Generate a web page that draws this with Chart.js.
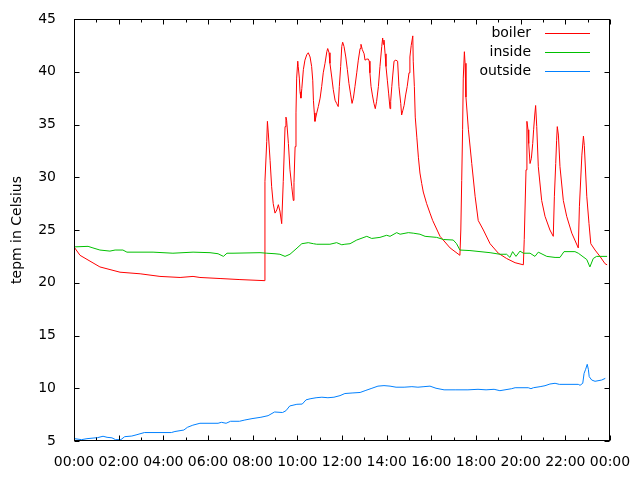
<!DOCTYPE html>
<html>
<head>
<meta charset="utf-8">
<script src="https://cdn.jsdelivr.net/npm/chart.js@4.4.0/dist/chart.umd.min.js"></script>
<style>
	html, body { margin: 0; padding: 0; background: #fff; }
	#wrap { width: 640px; height: 480px; }
</style>
</head>
<body>
<div id="wrap"><canvas id="c" width="640" height="480"></canvas></div>
<script>
// values, time in hours since midnight
const boilerHours = [0,0.27,1.16,2.06,2.96,3.85,4.75,5.33,5.64,6.54,7.43,8.51,8.55,8.63,8.66,8.70,8.78,8.85,8.92,9.00,9.08,9.15,9.22,9.30,9.37,9.45,9.49,9.52,9.60,9.67,9.75,9.82,9.85,9.90,9.94,9.97,10.02,10.04,10.09,10.12,10.16,10.20,10.27,10.34,10.42,10.49,10.57,10.64,10.69,10.72,10.76,10.79,10.83,10.87,10.94,11.02,11.09,11.16,11.24,11.32,11.36,11.42,11.46,11.54,11.61,11.69,11.76,11.83,11.88,11.94,11.99,12.03,12.09,12.17,12.24,12.31,12.39,12.45,12.51,12.58,12.66,12.73,12.81,12.85,12.91,12.99,13.03,13.11,13.18,13.22,13.25,13.30,13.36,13.43,13.49,13.55,13.63,13.70,13.78,13.82,13.85,13.88,13.93,13.97,14.03,14.09,14.15,14.18,14.23,14.27,14.33,14.41,14.49,14.55,14.63,14.67,14.72,14.78,14.85,14.92,15.00,15.04,15.10,15.17,15.19,15.24,15.28,15.35,15.42,15.49,15.57,15.64,15.79,15.94,16.06,16.39,16.84,17.28,17.32,17.36,17.40,17.43,17.48,17.51,17.55,17.66,17.81,17.96,18.10,18.33,18.63,19.00,19.37,19.75,20.12,20.16,20.24,20.28,20.33,20.36,20.42,20.48,20.54,20.58,20.63,20.67,20.72,20.79,20.94,21.09,21.31,21.46,21.51,21.57,21.61,21.64,21.69,21.76,21.91,22.06,22.29,22.58,22.63,22.74,22.81,22.85,22.96,23.06,23.14,23.33,23.55,23.78,23.87]
const boilerTemp = [23.4,22.6,21.5,21.0,20.85,20.6,20.5,20.6,20.5,20.4,20.3,20.2,29.6,33.4,35.3,34.2,31.6,29.1,27.5,26.6,26.9,27.4,26.8,25.6,29.6,34.8,35.7,35.4,33.2,30.7,29.1,27.8,29.5,32.9,36.1,39.4,41.0,40.5,39.4,38.1,37.5,38.4,40.2,41.1,41.6,41.8,41.4,40.5,39.2,37.3,36.1,35.3,35.7,36.1,36.7,37.5,38.6,39.9,40.8,41.9,42.2,41.8,40.8,39.5,38.3,37.3,37.0,36.7,38.6,40.5,42.4,42.8,42.4,41.4,40.2,38.9,37.8,37.0,37.5,38.6,39.9,41.1,42.2,42.6,42.1,41.7,41.1,41.2,41.2,41.0,39.9,38.6,37.8,37.0,36.5,37.2,38.6,40.5,42.4,43.2,42.6,43.0,41.7,40.5,39.2,37.9,36.5,37.2,38.6,39.6,41.0,41.1,41.0,38.6,37.0,35.9,36.3,36.8,37.8,38.6,39.9,41.4,42.5,43.4,41.0,38.6,35.7,33.8,31.9,30.4,29.4,28.6,27.5,26.6,25.9,24.4,23.3,22.6,25.0,29.7,34.5,39.4,41.9,40.8,37.6,34.5,31.3,28.2,25.9,25.0,23.7,22.8,22.3,21.9,21.7,24.1,30.7,35.3,34.5,33.2,31.3,31.8,33.2,34.5,35.9,36.8,34.8,31.0,27.8,26.3,25.0,24.4,28.2,31.3,33.5,34.8,34.0,31.0,27.8,26.3,24.7,23.3,27.2,32.1,33.9,33.0,28.2,25.6,23.7,23.1,22.5,21.8,21.7]

const insideHours = [0,0.63,0.85,1.16,1.61,1.84,2.19,2.37,3.54,4.43,5.33,6.09,6.45,6.69,6.85,7.12,8.33,8.63,9.00,9.22,9.45,9.67,9.94,10.20,10.49,10.72,10.87,11.46,11.76,11.99,12.13,12.36,12.66,13.11,13.33,13.70,14.00,14.15,14.45,14.60,14.97,15.19,15.49,15.72,16.24,16.54,16.98,17.13,17.28,17.73,18.63,19.07,19.37,19.52,19.64,19.79,19.97,20.12,20.42,20.64,20.79,21.17,21.54,21.76,21.94,22.43,22.58,22.96,23.10,23.25,23.40,23.87]
const insideTemp = [23.4,23.45,23.3,23.1,23.0,23.1,23.1,22.9,22.9,22.8,22.9,22.85,22.75,22.5,22.8,22.8,22.85,22.8,22.75,22.7,22.5,22.7,23.2,23.7,23.8,23.7,23.65,23.65,23.8,23.6,23.65,23.7,24.05,24.4,24.2,24.3,24.5,24.4,24.75,24.6,24.75,24.7,24.6,24.4,24.3,24.1,24.05,23.7,23.1,23.05,22.85,22.7,22.7,22.4,22.95,22.5,23.0,22.8,22.8,22.5,22.9,22.5,22.4,22.4,22.95,22.95,22.8,22.2,21.5,22.3,22.5,22.5]

const outsideHours = [0.02,0.34,0.58,1.06,1.30,1.48,1.70,1.86,2.10,2.27,2.59,2.82,3.15,4.36,4.52,4.92,5.08,5.32,5.64,6.45,6.60,6.81,7.01,7.41,7.65,7.97,8.37,8.69,8.98,9.34,9.49,9.66,9.98,10.22,10.39,10.57,10.84,11.10,11.37,11.64,11.91,12.13,12.45,12.81,13.07,13.34,13.61,13.88,14.15,14.42,14.78,15.13,15.40,15.67,15.94,16.21,16.57,17.10,17.64,18.09,18.45,18.81,19.07,19.60,19.75,20.34,20.46,20.57,20.87,21.09,21.31,21.54,21.73,22.58,22.66,22.78,22.84,22.91,22.98,23.03,23.07,23.18,23.33,23.63,23.79]
const outsideTemp = [5.22,5.13,5.22,5.32,5.45,5.35,5.3,5.13,5.13,5.41,5.47,5.6,5.8,5.8,5.9,6.04,6.3,6.5,6.68,6.68,6.77,6.68,6.87,6.87,6.99,7.12,7.25,7.4,7.75,7.7,7.87,8.32,8.48,8.5,8.9,9.0,9.1,9.15,9.1,9.15,9.3,9.5,9.55,9.6,9.8,10.0,10.2,10.25,10.2,10.1,10.1,10.15,10.1,10.15,10.2,10.0,9.85,9.85,9.85,9.9,9.85,9.9,9.77,9.96,10.05,10.05,9.96,10.05,10.15,10.24,10.4,10.47,10.37,10.37,10.28,10.47,11.41,11.8,12.27,11.8,11.1,10.78,10.66,10.78,10.94]

const seriesNames = ['boiler', 'inside', 'outside']
const seriesColors = ['#ff0000', '#00c000', '#0080ff']
const xTicks = [0,2,4,6,8,10,12,14,16,18,20,22,24]
const xTickLabels = ['00:00','02:00','04:00','06:00','08:00','10:00','12:00','14:00','16:00','18:00','20:00','22:00','00:00']
const yTicks = [5,10,15,20,25,30,35,40,45]
const yTitle = 'tepm in Celsius'

const FONT = 'DejaVu Sans'

let toPoints = (xs, ys) => xs.map((x, i) => ({ x: x, y: ys[i] }))

// gnuplot style frame: box with inward ticks on all four sides
let framePlugin = {
	id: 'frame',
	afterDatasetsDraw: chart => {
		let ctx = chart.ctx
		let a = chart.chartArea
		let xs = chart.scales.x
		let ys = chart.scales.y
		let L = Math.round(a.left) + 0.5, R = Math.round(a.right) - 0.5
		let T = Math.round(a.top) + 0.5, B = Math.round(a.bottom) - 0.5
		ctx.save()
		ctx.strokeStyle = '#000'
		ctx.lineWidth = 1
		ctx.beginPath()
		for (let h = 0; h <= 24; h++) {
			let len = h % 2 === 0 ? 5 : 3
			let px = Math.round(xs.getPixelForValue(h)) + 0.5
			ctx.moveTo(px, B); ctx.lineTo(px, B - len)
			ctx.moveTo(px, T); ctx.lineTo(px, T + len)
		}
		yTicks.forEach(v => {
			let py = Math.round(ys.getPixelForValue(v)) + 0.5
			ctx.moveTo(L, py); ctx.lineTo(L + 5, py)
			ctx.moveTo(R, py); ctx.lineTo(R - 5, py)
		})
		ctx.stroke()
		ctx.strokeRect(L, T, R - L, B - T)
		ctx.restore()
	}
}

// key in the top right corner: text right aligned, sample line after it
let keyPlugin = {
	id: 'key',
	afterDraw: chart => {
		let ctx = chart.ctx
		ctx.save()
		ctx.font = '14px "' + FONT + '"'
		ctx.textAlign = 'right'
		ctx.textBaseline = 'middle'
		chart.data.datasets.forEach((d, i) => {
			let y = 33 + i * 19
			ctx.fillStyle = '#000'
			ctx.fillText(d.label, 531, y)
			ctx.strokeStyle = d.borderColor
			ctx.lineWidth = 1
			ctx.beginPath()
			ctx.moveTo(545, y + 0.5)
			ctx.lineTo(590, y + 0.5)
			ctx.stroke()
		})
		ctx.restore()
	}
}

let build = () => {
	let sets = [
		toPoints(boilerHours, boilerTemp),
		toPoints(insideHours, insideTemp),
		toPoints(outsideHours, outsideTemp)
	]
	let datasets = sets.map((pts, i) => ({
		label: seriesNames[i],
		data: pts,
		borderColor: seriesColors[i],
		backgroundColor: seriesColors[i],
		borderWidth: 1,
		pointRadius: 0,
		tension: 0,
		fill: false,
		order: 3 - i
	}))

	new Chart(document.getElementById('c'), {
		type: 'line',
		data: { datasets: datasets },
		options: {
			responsive: false,
			animation: false,
			events: [],
			layout: { padding: { top: 19, right: 30, bottom: 0, left: 0 } },
			plugins: { legend: { display: false }, tooltip: { enabled: false } },
			scales: {
				x: {
					type: 'linear',
					min: 0,
					max: 24,
					grid: { display: false },
					border: { display: false },
					afterBuildTicks: s => { s.ticks = xTicks.map(v => ({ value: v })) },
					afterFit: s => { s.height = 39 },
					ticks: {
						autoSkip: false,
						maxRotation: 0,
						minRotation: 0,
						padding: 5,
						color: '#000',
						font: { family: FONT, size: 14 },
						callback: (v, i) => xTickLabels[i]
					}
				},
				y: {
					min: 5,
					max: 45,
					grid: { display: false },
					border: { display: false },
					afterBuildTicks: s => { s.ticks = yTicks.map(v => ({ value: v })) },
					afterFit: s => { s.width = 74 },
					ticks: {
						padding: 10,
						color: '#000',
						font: { family: FONT, size: 14 }
					},
					title: {
						display: true,
						text: yTitle,
						color: '#000',
						font: { family: FONT, size: 14 },
						padding: { top: 9, bottom: 0 }
					}
				}
			}
		},
		plugins: [framePlugin, keyPlugin]
	})
}

build()
</script>
</body>
</html>
